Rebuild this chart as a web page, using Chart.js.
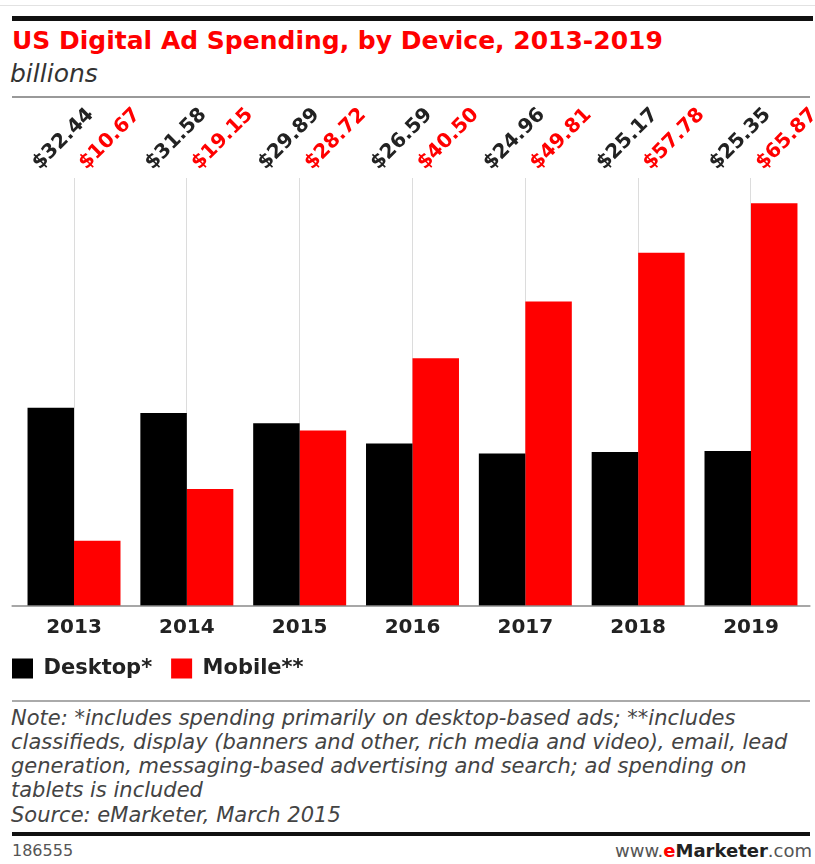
<!DOCTYPE html>
<html>
<head>
<meta charset="utf-8">
<title>US Digital Ad Spending, by Device, 2013-2019</title>
<script src="https://cdn.jsdelivr.net/npm/chart.js@4.4.1/dist/chart.umd.min.js"></script>
<style>
  html, body { margin: 0; padding: 0; background: #fff; }
  body { width: 815px; height: 864px; position: relative; overflow: hidden; font-family: "DejaVu Sans", sans-serif; }
  .rule { position: absolute; }
  .txt { position: absolute; white-space: nowrap; }
  #title { left: 12px; top: 26px; font-size: 25px; line-height: 30px; font-weight: bold; color: #ff0000; }
  #unit { left: 10px; top: 60px; font-size: 25px; line-height: 28px; font-style: italic; color: #333; }
  #note { left: 11px; top: 705.5px; font-size: 21px; line-height: 24.3px; font-style: italic; color: #444; }
  #chartId { left: 12px; top: 841px; font-size: 16px; line-height: 20px; color: #555; }
  #site { right: 3px; top: 841px; font-size: 18px; line-height: 20px; color: #555; }
  #site b { color: #222; }
  #site b span { color: #ff0000; }
  #wrap { position: absolute; left: -7px; top: 0; width: 822px; height: 693px; }
</style>
</head>
<body>
<div class="rule" style="left:0;top:5px;width:815px;height:1px;background:#e2e2e2"></div>
<div class="rule" style="left:12px;top:16px;width:801px;height:5px;background:#111"></div>
<div class="txt" id="title">US Digital Ad Spending, by Device, 2013-2019</div>
<div class="txt" id="unit">billions</div>
<div class="rule" style="left:12px;top:96px;width:798px;height:2px;background:#999"></div>

<div id="wrap"><canvas id="adChart"></canvas></div>

<div class="rule" style="left:12px;top:700px;width:798px;height:2px;background:#aaa"></div>
<div class="txt" id="note">Note: *includes spending primarily on desktop-based ads; **includes<br>classifieds, display (banners and other, rich media and video), email, lead<br>generation, messaging-based advertising and search; ad spending on<br>tablets is included<br>Source: eMarketer, March 2015</div>
<div class="rule" style="left:12px;top:832px;width:798px;height:4px;background:#111"></div>
<div class="txt" id="chartId">186555</div>
<div class="txt" id="site">www.<b><span>e</span>Marketer</b>.com</div>

<script>
// du lieu: chi tieu quang cao so tai My (ty USD)
const years = ['2013', '2014', '2015', '2016', '2017', '2018', '2019'];
const desktopSpend = [32.44, 31.58, 29.89, 26.59, 24.96, 25.17, 25.35];
const mobileSpend = [10.67, 19.15, 28.72, 40.50, 49.81, 57.78, 65.87];
const seriesNames = ['Desktop*', 'Mobile**'];
const yMax = 70;

const RED = '#ff0000';
const INK = '#222';

// nhan gia tri xoay cheo phia tren cot
const valueLabels = {
    id: 'valueLabels',
    afterDatasetsDraw(chart) {
        const ctx = chart.ctx;
        ctx.save();
        ctx.font = 'bold 20px "DejaVu Sans"';
        ctx.textAlign = 'left';
        ctx.textBaseline = 'alphabetic';
        chart.data.datasets.forEach((ds, i) => {
            const meta = chart.getDatasetMeta(i);
            ctx.fillStyle = i === 0 ? INK : RED;
            meta.data.forEach((bar, j) => {
                ctx.save();
                ctx.translate(bar.x - 11, 170);
                ctx.rotate(-Math.PI / 4);
                ctx.fillText('$' + ds.data[j].toFixed(2), 0, 0);
                ctx.restore();
            });
        });
        ctx.restore();
    }
};

// duong truc ngang mau xam, hoi dai hon vung ve
const baseLine = {
    id: 'baseLine',
    afterDatasetsDraw(chart) {
        const { ctx, chartArea } = chart;
        const y = chart.scales.y.getPixelForValue(0);
        ctx.save();
        ctx.strokeStyle = '#8a8a8a';
        ctx.lineWidth = 1.5;
        ctx.beginPath();
        ctx.moveTo(chartArea.left - 6, y);
        ctx.lineTo(chartArea.right + 3, y);
        ctx.stroke();
        ctx.restore();
    }
};

new Chart(document.getElementById('adChart'), {
    type: 'bar',
    data: {
        labels: years,
        datasets: [
            { label: seriesNames[0], data: desktopSpend, backgroundColor: '#000', borderWidth: 0 },
            { label: seriesNames[1], data: mobileSpend, backgroundColor: RED, borderWidth: 0 }
        ]
    },
    options: {
        responsive: true,
        maintainAspectRatio: false,
        animation: false,
        layout: { padding: { top: 178, right: 7.6, bottom: 4, left: 0 } },
        datasets: { bar: { categoryPercentage: 0.824, barPercentage: 1.0 } },
        scales: {
            x: {
                grid: { offset: false, color: '#dcdcdc', lineWidth: 1, drawTicks: false },
                border: { display: false },
                ticks: { color: INK, font: { family: 'DejaVu Sans', weight: 'bold', size: 20 }, padding: 10 },
                afterFit(s) { s.height = 33; }
            },
            y: {
                min: 0,
                max: yMax,
                ticks: { display: false },
                grid: { display: false },
                border: { display: false },
                afterFit(s) { s.width = 24.6; }
            }
        },
        plugins: {
            legend: {
                position: 'bottom',
                align: 'start',
                labels: {
                    color: INK,
                    font: { family: 'DejaVu Sans', weight: 'bold', size: 21 },
                    boxWidth: 21,
                    boxHeight: 20,
                    padding: 19
                }
            },
            tooltip: { enabled: false }
        }
    },
    plugins: [valueLabels, baseLine]
});
</script>
</body>
</html>
